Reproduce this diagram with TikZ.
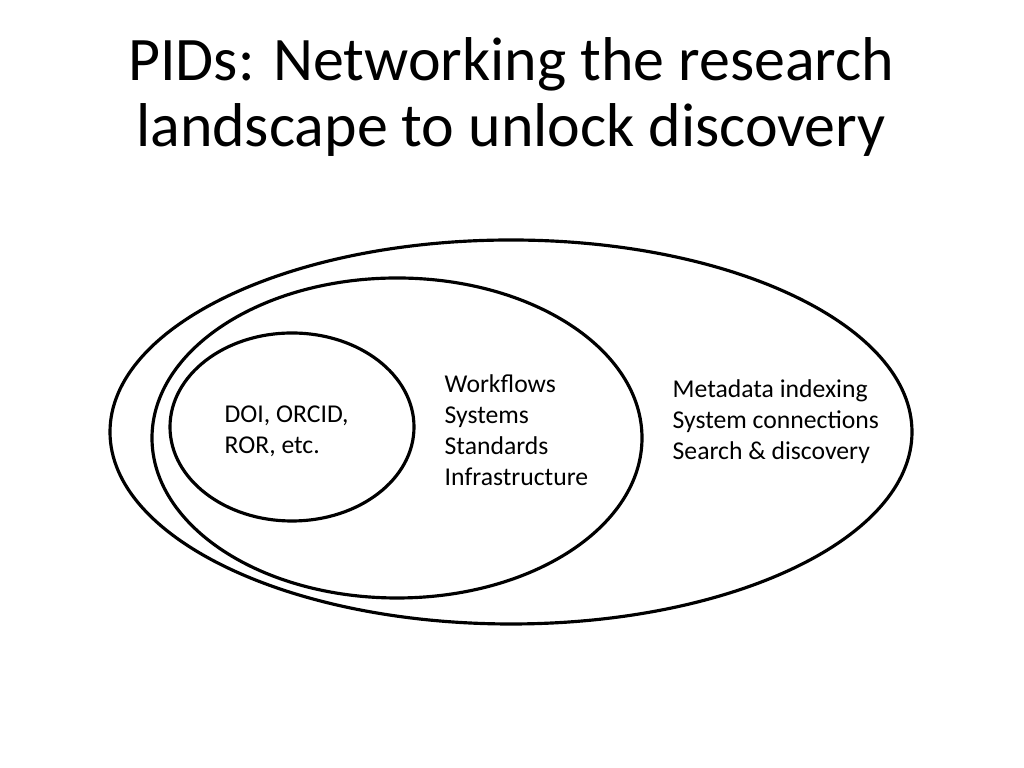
\documentclass[tikz,border=0pt]{standalone}
\usepackage{fontspec}
\setmainfont{Carlito}
\begin{document}
\begin{tikzpicture}[x=0.01cm,y=-0.01cm,
  ring/.style={draw=black,line width=0.9pt},
  body/.style={font=\fontsize{7.3}{8.8}\selectfont,align=left,anchor=west,inner sep=0pt}]
\useasboundingbox (0,0) rectangle (1024,768);
\node[font=\fontsize{17.6}{19}\selectfont,align=center] (title) at (511,97) {PIDs: Networking the research\\landscape to unlock discovery};
\draw[ring] (511,432) ellipse [x radius=401, y radius=192];
\draw[ring] (397,438) ellipse [x radius=245, y radius=160];
\draw[ring] (292,427) ellipse [x radius=122, y radius=94];
\node[body] (a) at (224,431) {DOI, ORCID,\\ROR, etc.};
\node[body] (b) at (444,430) {Workflows\\Systems\\Standards\\Infrastructure};
\node[body] (c) at (672,422) {Metadata indexing\\System connections\\Search \& discovery};
\end{tikzpicture}
\end{document}
